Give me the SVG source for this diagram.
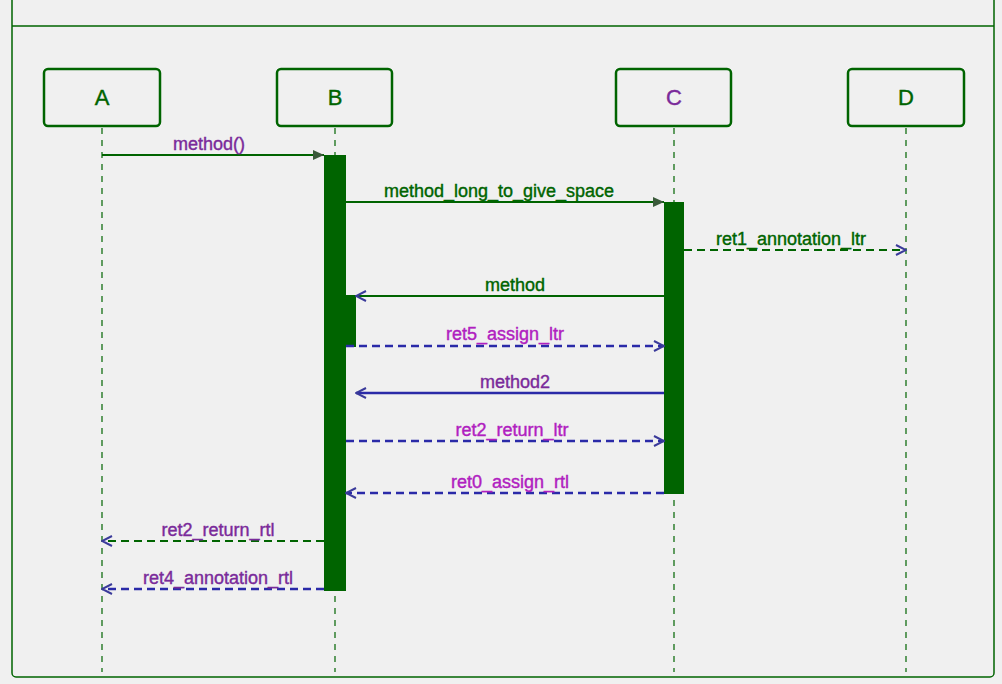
<svg xmlns="http://www.w3.org/2000/svg" width="1002" height="684" viewBox="0 0 1002 684">
<style>
text{font-family:"Liberation Sans",Arial,sans-serif;font-size:18px;text-anchor:middle;stroke-width:0.4}
.node{font-size:22px}
.box{fill:#f0f0f0;stroke:#006400;stroke-width:2.5}
.life{stroke:#006400;stroke-width:1.2;stroke-dasharray:6,6;fill:none}
.act{fill:#006400}
.m{stroke:#006400;stroke-width:2;fill:none}
.r{stroke:#2a2aa8;stroke-width:2.5;stroke-dasharray:8,5;fill:none}
.g{stroke:#006400;stroke-width:2;stroke-dasharray:8,5;fill:none}
.lbl{fill:#7a2a9a;stroke:#7a2a9a}
.glbl{fill:#006400;stroke:#006400}
.mlbl{fill:#b020c0;stroke:#b020c0}
</style>
<defs>
<marker id="fill" markerWidth="12" markerHeight="12" refX="11" refY="6" orient="auto" markerUnits="userSpaceOnUse"><path d="M0,1 L11,6 L0,11 Z" fill="#3a5a3a"/></marker>
<marker id="open" markerWidth="12" markerHeight="12" refX="11" refY="6" orient="auto" markerUnits="userSpaceOnUse"><path d="M1,1 L11,6 L1,11" fill="none" stroke="#3a3a9a" stroke-width="2"/></marker>
</defs>
<rect x="0" y="0" width="1002" height="684" fill="#f0f0f0"/>
<rect x="12" y="-10" width="982" height="687" rx="4" fill="none" stroke="#006400" stroke-width="1.5"/>
<line x1="12" y1="26" x2="994" y2="26" stroke="#006400" stroke-width="1.5"/>
<g id="A"><rect class="box" x="44" y="69" width="116" height="57" rx="4"/><line class="life" x1="102" y1="128" x2="102" y2="672"/><text x="102" y="105" class="glbl node">A</text></g>
<g id="B"><rect class="box" x="277" y="69" width="115" height="57" rx="4"/><line class="life" x1="335" y1="128" x2="335" y2="672"/><text x="335" y="105" class="glbl node">B</text></g>
<g id="C"><rect class="box" x="616" y="69" width="115" height="57" rx="4"/><line class="life" x1="674" y1="128" x2="674" y2="672"/><text x="674" y="105" class="lbl node">C</text></g>
<g id="D"><rect class="box" x="848" y="69" width="116" height="57" rx="4"/><line class="life" x1="906" y1="128" x2="906" y2="672"/><text x="906" y="105" class="glbl node">D</text></g>
<g id="activations">
<rect class="act" x="324" y="155" width="22" height="436"/>
<rect class="act" x="324" y="295" width="32" height="52"/>
<rect class="act" x="664" y="202" width="20" height="292"/>
</g>
<g id="connectors">
<line class="m" x1="102" y1="155" x2="324" y2="155" marker-end="url(#fill)"/>
<text x="209" y="150" class="lbl">method()</text>
<line class="m" x1="346" y1="202" x2="664" y2="202" marker-end="url(#fill)"/>
<text x="499" y="197" class="glbl">method_long_to_give_space</text>
<line class="g" x1="684" y1="250" x2="906" y2="250" marker-end="url(#open)"/>
<text x="791" y="245" class="glbl">ret1_annotation_ltr</text>
<line class="m" x1="664" y1="296" x2="356" y2="296" marker-end="url(#open)"/>
<text x="515" y="291" class="glbl">method</text>
<line class="r" x1="346" y1="346" x2="664" y2="346" marker-end="url(#open)"/>
<text x="505" y="340" class="mlbl">ret5_assign_ltr</text>
<line x1="664" y1="393" x2="356" y2="393" stroke="#2a2aa8" stroke-width="2.5" marker-end="url(#open)"/>
<text x="515" y="388" class="lbl">method2</text>
<line class="r" x1="346" y1="441" x2="664" y2="441" marker-end="url(#open)"/>
<text x="512" y="436" class="mlbl">ret2_return_ltr</text>
<line class="r" x1="664" y1="493" x2="346" y2="493" marker-end="url(#open)"/>
<text x="510" y="488" class="mlbl">ret0_assign_rtl</text>
<line class="g" x1="324" y1="541" x2="102" y2="541" marker-end="url(#open)"/>
<text x="218" y="536" class="lbl">ret2_return_rtl</text>
<line class="r" x1="324" y1="589" x2="102" y2="589" marker-end="url(#open)"/>
<text x="218" y="584" class="lbl">ret4_annotation_rtl</text>
</g>
</svg>
